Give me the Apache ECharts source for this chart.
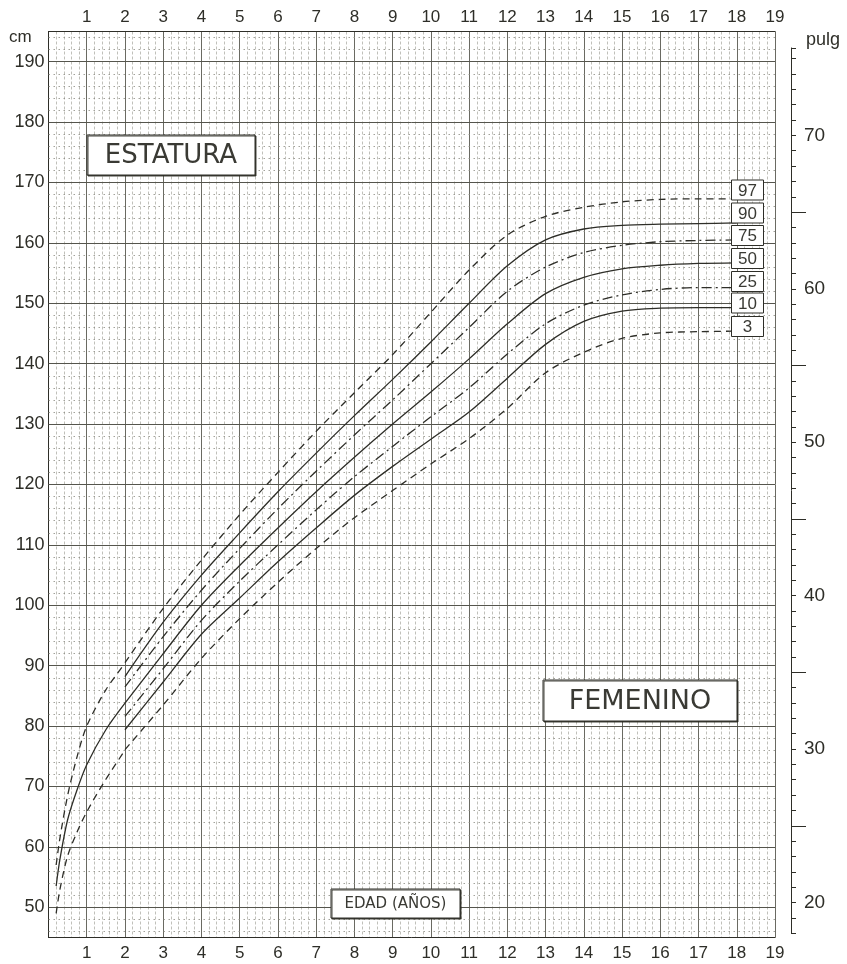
<!DOCTYPE html>
<html><head><meta charset="utf-8">
<script src="https://cdn.jsdelivr.net/npm/echarts@6/dist/echarts.min.js"></script>
<style>html,body{margin:0;padding:0;background:#fff}#c{width:847px;height:964px}</style>
</head><body><div id="c"></div>
<script>
// ---- data ----
const infantAges = [0.2, 0.3, 0.5, 0.75, 1, 1.5, 2];
const infantP97 = [57, 61.5, 68.5, 75, 80, 86, 90.4];
const infantP50 = [53.5, 58, 64.5, 69.5, 73.6, 79.4, 83.8];
const infantP3  = [49, 53, 58.5, 62.5, 65.8, 71.2, 76];

const ages = [2, 3, 4, 5, 6, 7, 8, 9, 10, 11, 12, 13, 14, 15, 16, 17, 18];
const p97 = [90.5, 99.5, 107.5, 115, 122, 128.8, 135.2, 141.5, 148.5, 155.5, 161.3, 164.4, 165.9, 166.8, 167.2, 167.3, 167.3];
const p90 = [88.2, 97.2, 105, 112, 118.8, 125.2, 131.4, 137.4, 143.6, 150, 156.2, 160.5, 162.3, 162.9, 163.1, 163.2, 163.3];
const p75 = [86.5, 94.8, 102.5, 109.4, 116, 122.2, 128.2, 134, 140, 146, 152, 156, 158.4, 159.6, 160.2, 160.4, 160.5];
const p50 = [83.8, 92, 100, 106.6, 112.8, 118.8, 124.5, 130, 135.3, 140.8, 146.6, 151.6, 154.3, 155.7, 156.3, 156.6, 156.7];
const p25 = [81.6, 89.5, 97.5, 104, 110, 115.8, 121.3, 126.3, 131.2, 136, 141.6, 146.6, 149.7, 151.4, 152.3, 152.6, 152.6];
const p10 = [79.4, 87.3, 95.2, 101.2, 107.2, 112.8, 118.2, 123, 127.5, 132, 137.6, 143.2, 147, 148.7, 149.2, 149.3, 149.3];
const p3  = [76.1, 83.5, 91.2, 97.8, 103.8, 109.4, 114.5, 119, 123.4, 127.6, 132.6, 138.5, 141.9, 144.2, 145.1, 145.3, 145.4];

const percentileLabels = ['97', '90', '75', '50', '25', '10', '3'];
const cmLabelValues = [50, 60, 70, 80, 90, 100, 110, 120, 130, 140, 150, 160, 170, 180, 190];
const inchLabelValues = [20, 30, 40, 50, 60, 70];

// ---- layout ----
const L = 48.5, R = 775, T = 31.5, B = 937.5;
const CM_MIN = 45, CM_MAX = 195;
const pxPerCm = (B - T) / (CM_MAX - CM_MIN);
const yPx = cm => T + (CM_MAX - cm) * pxPerCm;
const IN_MIN = 18, IN_MAX = 75.7;
const AX_IN_X = 791;
const ink = '#2e2e28';
const FONT = 'Liberation Sans';
const TFONT = 'DejaVu Sans';

const majorH = [], minorH = [];
for (let v = 46; v < 195; v += 2) { if (v % 10 === 0) majorH.push(v); else minorH.push(v); }

const pairs = (xs, ys) => xs.map((x, i) => [x, ys[i]]);

const curveStyles = { dashed: [7, 5], solid: 'solid', dashdot: [10, 4, 2, 4] };
function curve(name, xs, ys, type) {
  return {
    name, type: 'line', xAxisIndex: 0, yAxisIndex: 0, data: pairs(xs, ys),
    showSymbol: false, smooth: 0.3, z: 5, silent: true,
    lineStyle: { color: ink, width: 1.3, type: curveStyles[type] }
  };
}

const chart = echarts.init(document.getElementById('c'), null, { renderer: 'canvas' });

const graphics = [];
function box(x, y, w, h, text, font, shadow) {
  graphics.push({
    type: 'rect', z: 50,
    shape: { x, y, width: w, height: h },
    style: { fill: '#fff', stroke: ink, lineWidth: 1,
      shadowColor: shadow ? 'rgba(40,40,30,0.85)' : 'transparent', shadowOffsetX: shadow ? 1 : 0, shadowOffsetY: shadow ? 1 : 0, shadowBlur: 0 }
  });
  graphics.push({
    type: 'text', z: 51,
    style: { text, x: x + w / 2, y: y + h / 2 + 1, align: 'center', verticalAlign: 'middle', font, fill: '#3a3a34' }
  });
}
box(87, 135, 168, 40, 'ESTATURA', `26px "${TFONT}"`, true);
box(543, 680, 194, 41, 'FEMENINO', `27px "${TFONT}"`, true);
box(331, 889, 129, 29, 'EDAD (AÑOS)', `15px "${TFONT}"`, true);
const pctTops = [180, 203, 225.5, 248.5, 271.5, 293, 316.5];
percentileLabels.forEach((t, i) => box(731.5, pctTops[i], 32, 20, t, `17px "${FONT}"`, false));

graphics.push({ type: 'text', z: 51, style: { text: 'cm', x: 9, y: 37, verticalAlign: 'middle', font: `17px "${FONT}"`, fill: ink } });
graphics.push({ type: 'text', z: 51, style: { text: 'pulg', x: 806, y: 40, verticalAlign: 'middle', font: `18px "${FONT}"`, fill: ink } });

const hiddenX = (gi) => ({ gridIndex: gi, type: 'value', min: 0, max: 1, show: false });
const inTop = yPx(IN_MAX * 2.54), inBot = yPx(IN_MIN * 2.54);
const fTop = yPx(65 * 2.54), fBot = yPx(25 * 2.54);

const option = {
  animation: false,
  backgroundColor: '#fff',
  grid: [
    { left: L, top: T, width: R - L, height: B - T, outerBoundsMode: 'none' },
    { left: AX_IN_X, width: 40, top: inTop, height: inBot - inTop, outerBoundsMode: 'none' },
    { left: AX_IN_X, width: 40, top: fTop, height: fBot - fTop, outerBoundsMode: 'none' }
  ],
  xAxis: [
    { gridIndex: 0, type: 'value', position: 'bottom', min: 0, max: 19, interval: 1,
      axisLine: { show: true, lineStyle: { color: ink, width: 1 } },
      axisTick: { show: false },
      axisLabel: { formatter: v => v === 0 ? '' : String(v), color: ink, fontSize: 17, fontFamily: FONT, margin: 7 },
      splitLine: { show: true, lineStyle: { color: '#6a6a62', width: 1 } },
      minorTick: { show: false, splitNumber: 5 },
      minorSplitLine: { show: true, lineStyle: { color: '#b0b0a8', width: 0.8, type: [3, 2] } } },
    { gridIndex: 0, type: 'value', position: 'top', min: 0, max: 19, interval: 1,
      axisLine: { show: true, lineStyle: { color: ink, width: 1 } },
      axisTick: { show: false },
      axisLabel: { formatter: v => v === 0 ? '' : String(v), color: ink, fontSize: 17, fontFamily: FONT, margin: 6 },
      splitLine: { show: false } },
    hiddenX(1), hiddenX(2)
  ],
  yAxis: [
    { gridIndex: 0, type: 'value', position: 'left', min: CM_MIN, max: CM_MAX, interval: 5,
      axisLine: { show: true, lineStyle: { color: ink, width: 1 } },
      axisTick: { show: false },
      axisLabel: { formatter: v => cmLabelValues.includes(v) ? String(v) : '', color: ink, fontSize: 18, fontFamily: FONT, margin: 4 },
      splitLine: { show: false } },
    { gridIndex: 1, type: 'value', position: 'left', min: IN_MIN, max: IN_MAX, interval: 1,
      axisLine: { show: true, lineStyle: { color: ink, width: 1 } },
      axisTick: { show: true, inside: true, length: 5, lineStyle: { color: ink, width: 1 } },
      axisLabel: { inside: true, formatter: v => inchLabelValues.includes(v) ? String(v) : '', color: ink, fontSize: 19, fontFamily: FONT, margin: 13 },
      splitLine: { show: false } },
    { gridIndex: 2, type: 'value', position: 'left', min: 25, max: 65, interval: 10,
      axisLine: { show: false },
      axisTick: { show: true, inside: true, length: 15, lineStyle: { color: ink, width: 1 } },
      axisLabel: { show: false },
      splitLine: { show: false } }
  ],
  graphic: graphics,
  series: [
    { name: 'grid', type: 'line', xAxisIndex: 0, yAxisIndex: 0, data: [], silent: true, z: 1,
      markLine: { silent: true, symbol: ['none', 'none'], label: { show: false }, animation: false,
        data: [
          ...minorH.map(v => ({ yAxis: v, lineStyle: { color: '#8a8a82', width: 0.8, type: [1.5, 3.5] } })),
          ...majorH.map(v => ({ yAxis: v, lineStyle: { color: '#55554d', width: 1, type: 'solid' } }))
        ] } },
    curve('P97 0-2', infantAges, infantP97, 'dashed'),
    curve('P50 0-2', infantAges, infantP50, 'solid'),
    curve('P3 0-2', infantAges, infantP3, 'dashed'),
    curve('P97', ages, p97, 'dashed'),
    curve('P90', ages, p90, 'solid'),
    curve('P75', ages, p75, 'dashdot'),
    curve('P50', ages, p50, 'solid'),
    curve('P25', ages, p25, 'dashdot'),
    curve('P10', ages, p10, 'solid'),
    curve('P3', ages, p3, 'dashed')
  ]
};
chart.setOption(option);
</script></body></html>
